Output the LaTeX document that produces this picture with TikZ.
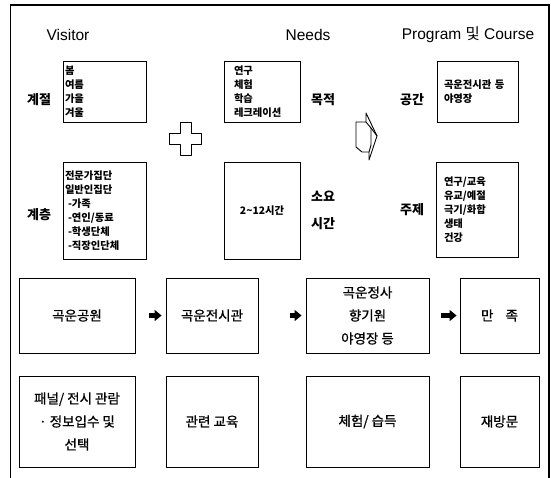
\documentclass[tikz,border=0pt]{standalone}
\usepackage{fontspec}
\setmainfont{Liberation Sans}
\newfontfamily\kr{Noto Sans CJK KR}
\newfontfamily\krmed[FakeBold=0.8]{Noto Sans CJK KR}
\usetikzlibrary{arrows.meta}
\begin{document}
\begin{tikzpicture}[x=1pt,y=-1pt,
  box/.style={draw, line width=0.9pt, inner sep=0pt},
  lst/.style={box, align=left, font=\kr\bfseries\fontsize{10.3}{14}\selectfont},
  lbl/.style={font=\kr\bfseries\fontsize{13}{15}\selectfont},
  hdr/.style={font=\fontsize{15.5}{17}\selectfont},
  big/.style={box, align=center, font=\krmed\fontsize{13.5}{23}\selectfont},
  flow/.style={line width=4.5pt, -{Triangle[length=7pt,width=11pt]}},
  frame/.style={line width=1.2pt},
  outline/.style={line width=0.9pt, line join=round}]
\useasboundingbox (0,0) rectangle (551,477);
\draw[frame] (10.5,5) rectangle (549,495);
% headers
\node[hdr] (hv) at (68,35) {Visitor};
\node[hdr] (hn) at (308,35) {Needs};
\node[hdr] (hp) at (468,35) {Program {\kr 및} Course};
% row 1
\node[lst, minimum width=83pt, minimum height=61pt, text width=79pt, inner xsep=2pt] (season) at (104.5,91.5) {봄\\여름\\가을\\겨울};
\node[lbl] (lseason) at (39,100) {계절};
\node[lst, minimum width=76pt, minimum height=61pt, text width=56pt, inner xsep=10pt] (purpose) at (262,91.5) {연구\\체험\\학습\\레크레이션};
\node[lbl] (lpurpose) at (323,100) {목적};
\node[lst, minimum width=81pt, minimum height=61pt, text width=67pt, inner xsep=7pt] (space) at (477.5,91.5) {곡운전시관 등\\야영장};
\node[lbl] (lspace) at (412,100) {공간};
% plus sign
\draw[outline] (180,122) -- (191,122) -- (191,133) -- (201,133) -- (201,144) -- (191,144) -- (191,155) -- (180,155) -- (180,144) -- (169,144) -- (169,133) -- (180,133) -- cycle;
% 3D block arrow
\draw[outline] (356,122) -- (366,122) -- (366,113) -- (377,136) -- (369,160) -- (369,152) -- (362,152) -- (356,147) -- cycle;
\draw[outline] (366,122) -- (371,128) -- (371,145) -- (369,152);
\draw[outline] (371,128) -- (377,136);
% row 2
\node[lst, minimum width=83pt, minimum height=97pt, text width=79pt, inner xsep=2pt] (group) at (104.5,210.5) {전문가집단\\일반인집단\\\hspace*{3pt}-가족\\\hspace*{3pt}-연인/동료\\\hspace*{3pt}-학생단체\\\hspace*{3pt}-직장인단체};
\node[lbl] (lgroup) at (39,215) {계층};
\node[box, minimum width=76pt, minimum height=97pt, font=\kr\bfseries\fontsize{10.3}{14}\selectfont] (time) at (262,210.5) {2\textasciitilde12시간};
\node[lbl] (ltime1) at (323,196) {소요};
\node[lbl] (ltime2) at (323,224) {시간};
\node[lst, minimum width=82pt, minimum height=95pt, text width=66pt, inner xsep=8pt] (theme) at (477,209.5) {연구/교육\\유교/예절\\극기/화합\\생태\\건강};
\node[lbl] (ltheme) at (412,210) {주제};
% row 3
\node[big, minimum width=116pt, minimum height=75pt] (b1) at (77,315.5) {곡운공원};
\node[big, minimum width=92pt, minimum height=75pt] (b2) at (212,315.5) {곡운전시관};
\node[big, minimum width=123pt, minimum height=75pt] (b3) at (367.5,315.5) {곡운정사\\향기원\\야영장 등};
\node[big, minimum width=79pt, minimum height=75pt] (b4) at (499.5,315.5) {만\hspace{0.9em}족};
\draw[flow, shorten <=14pt, shorten >=4pt] (b1.east) -- (b2.west);
\draw[flow, shorten <=32pt, shorten >=4pt] (b2.east) -- (b3.west);
\draw[flow, shorten <=12pt, shorten >=3pt] (b3.east) -- (b4.west);
% row 4
\node[big, minimum width=116pt, minimum height=91pt] (c1) at (77,421.5) {패널/ 전시 관람\\· 정보입수 및\\선택};
\node[big, minimum width=92pt, minimum height=91pt] (c2) at (212,421.5) {관련 교육};
\node[big, minimum width=123pt, minimum height=91pt] (c3) at (367.5,421.5) {체험/ 습득};
\node[big, minimum width=79pt, minimum height=91pt] (c4) at (499.5,421.5) {재방문};
\end{tikzpicture}
\end{document}
